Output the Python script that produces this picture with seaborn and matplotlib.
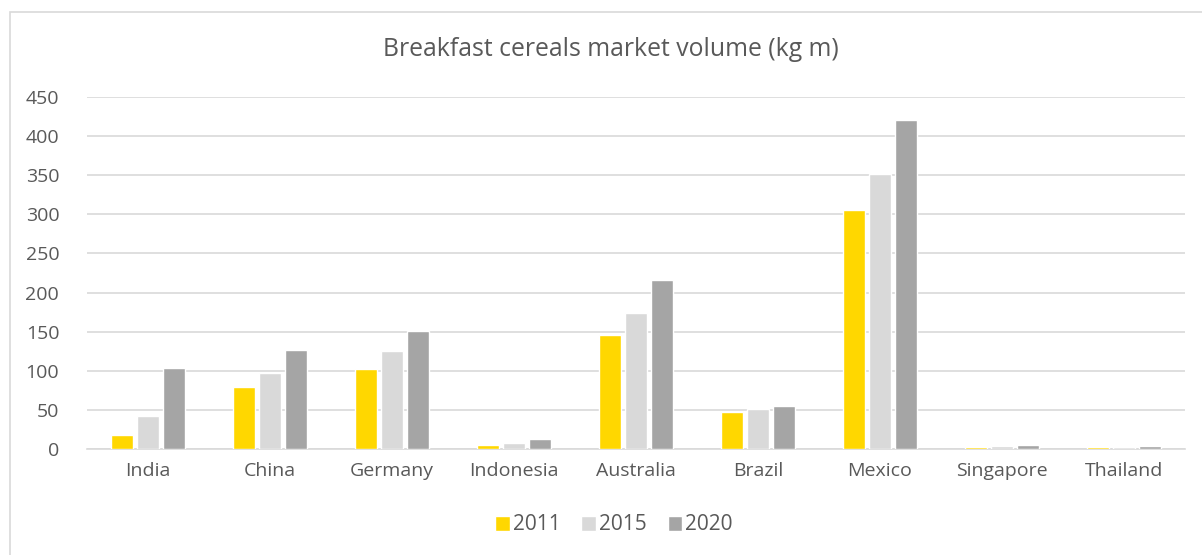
import matplotlib
matplotlib.use("Agg")
import matplotlib.pyplot as plt
import seaborn as sns
import pandas as pd
from matplotlib.patches import Rectangle

countries = ["India", "China", "Germany", "Indonesia", "Australia", "Brazil", "Mexico", "Singapore", "Thailand"]
years = ["2011", "2015", "2020"]
v2011 = [18, 79, 102, 4.5, 146, 47, 305, 2.2, 2.2]
v2015 = [42, 97, 125, 8, 174, 51, 351, 3.8, 3.0]
v2020 = [104, 126, 151, 13, 216, 55, 420, 5.5, 4.0]
colors = ["#FFD700", "#D9D9D9", "#A5A5A5"]

df = pd.DataFrame({
    "country": countries * 3,
    "year": [y for y in years for _ in countries],
    "value": v2011 + v2015 + v2020,
})

sns.set_theme(style="white")
plt.rcParams["font.family"] = ["Open Sans", "DejaVu Sans"]
text_color = "#595959"

fig = plt.figure(figsize=(12.02, 5.55), dpi=100)
ax = fig.add_axes([87 / 1202, 1 - 449 / 555, (1185 - 87) / 1202, (449 - 97) / 555])

sns.barplot(data=df, x="country", y="value", hue="year", palette=colors,
            width=0.64, gap=0.12, ax=ax, legend=True, saturation=1, zorder=3)

ax.set_ylim(0, 450)
ax.set_yticks(range(0, 451, 50))
ax.yaxis.grid(True, color="#D9D9D9", linewidth=1.2)
ax.set_axisbelow(True)
for s in ["top", "right", "left"]:
    ax.spines[s].set_visible(False)
ax.spines["bottom"].set_color("#D9D9D9")
ax.spines["bottom"].set_linewidth(1.2)
ax.spines["bottom"].set_zorder(1)
ax.set_xlabel("")
ax.set_ylabel("")
ax.tick_params(axis="both", colors=text_color, labelsize=14, length=0)
ax.tick_params(axis="y", pad=20)
ax.tick_params(axis="x", pad=9)

fig.text(611 / 1202, 1 - 50 / 555, "Breakfast cereals market volume (kg m)", ha="center", va="center",
         fontsize=17.8, color=text_color)

handles, labels = ax.get_legend_handles_labels()
ax.legend_.remove()
fig.legend(handles, labels, loc="center", bbox_to_anchor=(614 / 1202, 1 - 525 / 555), ncol=3,
           frameon=False, fontsize=15, labelcolor=text_color, handlelength=0.7,
           handleheight=0.7, handletextpad=0.15, columnspacing=1.0)

fig.patches.append(Rectangle((10 / 1202, -0.05), 1.2, 1 - 12 / 555 + 0.05,
                             transform=fig.transFigure, fill=False, edgecolor="#D9D9D9", linewidth=1.2))

fig.savefig("out.png", dpi=100)
